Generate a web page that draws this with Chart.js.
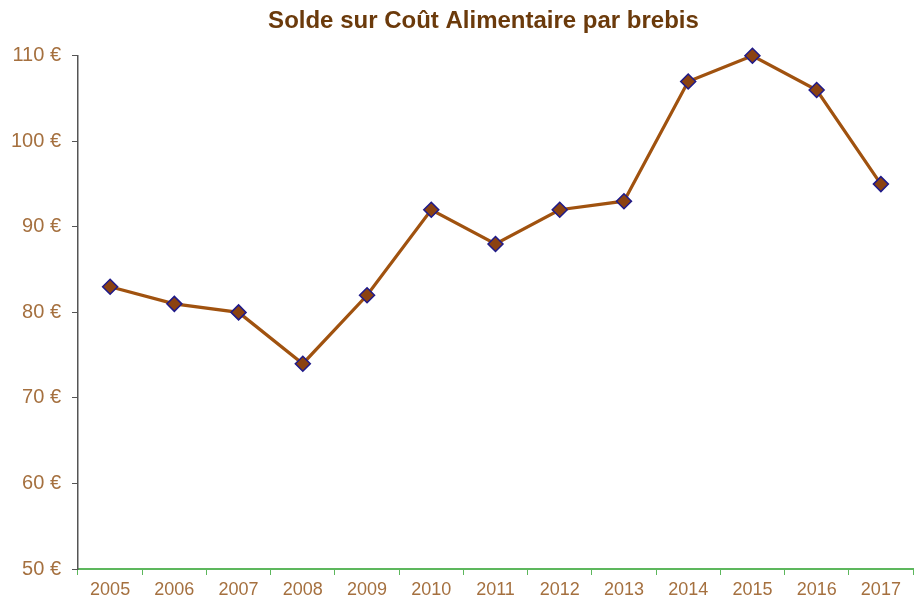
<!DOCTYPE html>
<html>
<head>
<meta charset="utf-8">
<script src="https://cdn.jsdelivr.net/npm/chart.js@4/dist/chart.umd.min.js"></script>
<style>
  html, body { margin: 0; padding: 0; background: #ffffff; overflow: hidden; }
  #wrap { width: 914px; height: 598px; }
</style>
</head>
<body>
<div id="wrap"><canvas id="solde_chart"></canvas></div>
<script>
const years = ["2005", "2006", "2007", "2008", "2009", "2010", "2011", "2012", "2013", "2014", "2015", "2016", "2017"];
const soldeValues = [83, 81, 80, 74, 82, 92, 88, 92, 93, 107, 110, 106, 95];
const titleText = "Solde sur Coût Alimentaire par brebis";

const labelColor = "#A5703F";
const fontFamily = "'Liberation Sans', Arial, sans-serif";

// nudge the title a little to the right, like in the original sheet
const shiftTitle = {
  id: "shiftTitle",
  afterLayout: (chart) => {
    const t = chart.titleBlock;
    if (t) {
      t.left += 27;
      t.right += 27;
    }
  },
};

new Chart(document.getElementById("solde_chart"), {
  type: "line",
  data: {
    labels: years,
    datasets: [
      {
        label: "Solde",
        data: soldeValues,
        borderColor: "#A0520F",
        borderWidth: 3.2,
        backgroundColor: "#8B4211",
        pointStyle: "rectRot",
        pointRadius: 7.5,
        pointHoverRadius: 7.5,
        pointBackgroundColor: "#8B4211",
        pointBorderColor: "#1F1A8A",
        pointBorderWidth: 1.5,
        tension: 0,
        clip: false,
      },
    ],
  },
  options: {
    animation: false,
    responsive: true,
    maintainAspectRatio: false,
    layout: {
      autoPadding: false,
      padding: { left: 0, right: 1, top: 0, bottom: 0 },
    },
    plugins: {
      legend: { display: false },
      tooltip: { enabled: false },
      title: {
        display: true,
        text: titleText,
        color: "#6B3A0B",
        font: { family: fontFamily, size: 24, weight: "bold" },
        padding: { top: 7, bottom: 20 },
      },
    },
    scales: {
      x: {
        offset: true,
        grid: {
          offset: true,
          drawOnChartArea: false,
          drawTicks: true,
          tickLength: 6,
          color: "#5DB75D",
        },
        border: { color: "#5DB75D", width: 2 },
        ticks: {
          color: labelColor,
          font: { family: fontFamily, size: 18 },
          padding: 4,
          maxRotation: 0,
          autoSkip: false,
        },
        afterFit: (scale) => {
          scale.height = 29;
          scale.paddingLeft = 0;
          scale.paddingRight = 0;
        },
      },
      y: {
        min: 50,
        max: 110,
        grid: {
          drawOnChartArea: false,
          drawTicks: true,
          tickLength: 6,
          color: "#555555",
        },
        border: { color: "#555555", width: 1.5 },
        ticks: {
          stepSize: 10,
          color: labelColor,
          font: { family: fontFamily, size: 20 },
          padding: 11,
          callback: (v) => v + " €",
        },
        afterFit: (scale) => {
          scale.width = 78;
        },
      },
    },
  },
  plugins: [shiftTitle],
});
</script>
</body>
</html>
